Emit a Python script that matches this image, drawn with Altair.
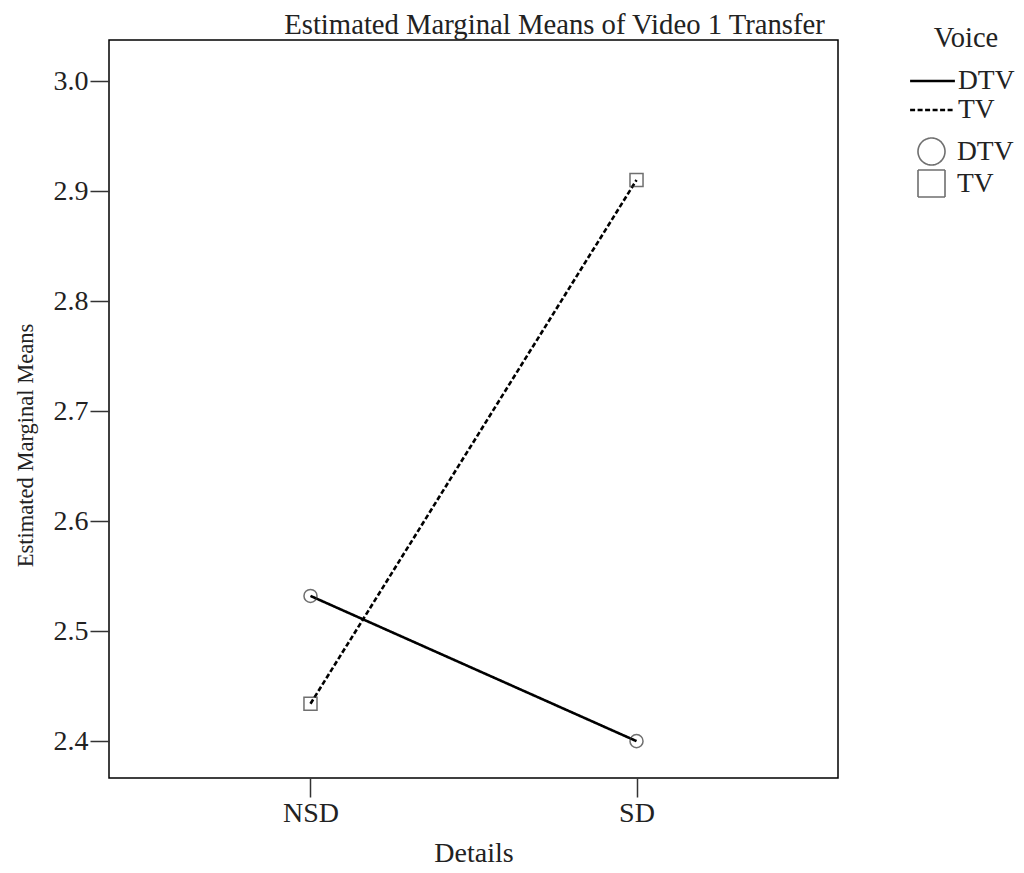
import altair as alt
import pandas as pd

details = ["NSD", "SD", "NSD", "SD"]
voice = ["DTV", "DTV", "TV", "TV"]
means = [2.532, 2.400, 2.434, 2.910]

df = pd.DataFrame({"Details": details, "Voice": voice, "Mean": means})
df["Voice marker"] = df["Voice"]

FONT = "Liberation Serif"

x_enc = alt.X(
    "Details:N",
    sort=["NSD", "SD"],
    scale=alt.Scale(type="point", padding=0.618),
    axis=alt.Axis(title="Details", labelAngle=0, tickSize=19, labelPadding=2,
                  titlePadding=12, domain=False, titleFontSize=28),
)
y_enc = alt.Y(
    "Mean:Q",
    scale=alt.Scale(domain=[2.3665, 3.0373], nice=False, zero=False),
    axis=alt.Axis(title="Estimated Marginal Means", values=[2.4, 2.5, 2.6, 2.7, 2.8, 2.9, 3.0],
                  format=".1f", tickSize=19, labelPadding=2, domain=False, grid=False,
                  titleX=-84, titleY=405, titleBaseline="middle", titleAlign="center",
                  titleAngle=270, titleFontSize=22.5),
)

lines = alt.Chart(df).mark_line(color="black", strokeWidth=2.6).encode(
    x=x_enc,
    y=y_enc,
    strokeDash=alt.StrokeDash(
        "Voice:N",
        scale=alt.Scale(range=[[1, 0], [5, 2.5]]),
        legend=alt.Legend(title="Voice", orient="none", legendX=808, legendY=-16,
                          symbolType="M-1.6,0H1.6", symbolSize=784, symbolStrokeWidth=2.5,
                          symbolStrokeColor="black", labelFontSize=27.5, titleFontSize=28.5,
                          titleAnchor="middle", rowPadding=0, titlePadding=13, labelOffset=10),
    ),
)

points = alt.Chart(df).mark_point(filled=False, color="#333333", size=170, strokeWidth=1.5).encode(
    x=x_enc,
    y=y_enc,
    shape=alt.Shape(
        "Voice marker:N",
        scale=alt.Scale(range=["circle", "square"]),
        legend=alt.Legend(title=None, orient="none", legendX=808, legendY=97,
                          symbolSize=729, symbolStrokeWidth=1.6, symbolStrokeColor="#333333",
                          symbolFillColor="white", symbolDash=[1, 0], labelFontSize=27.5,
                          rowPadding=-9, labelOffset=11),
    ),
)

chart = (
    alt.layer(lines, points)
    .properties(
        width=729,
        height=738,
        autosize=alt.AutoSizeParams(type="none"),
        padding={"left": 101, "top": 32, "right": 178, "bottom": 89},
        title=alt.TitleParams("Estimated Marginal Means of Video 1 Transfer", fontSize=28.7,
                              font=FONT, fontWeight="normal", color="#222222", dx=81, dy=22,
                              offset=6),
        background="white",
    )
    .configure_view(stroke="black", strokeWidth=1.5)
    .configure_axis(labelFont=FONT, titleFont=FONT, labelFontSize=28,
                    titleFontWeight="normal", labelColor="#222222", titleColor="#222222",
                    tickColor="#333333", tickWidth=1.5)
    .configure_legend(labelFont=FONT, titleFont=FONT, labelColor="#222222", titleColor="#222222",
                      titleFontWeight="normal")
)

chart.save("out.html", embed_options={"renderer": "svg", "actions": False})
